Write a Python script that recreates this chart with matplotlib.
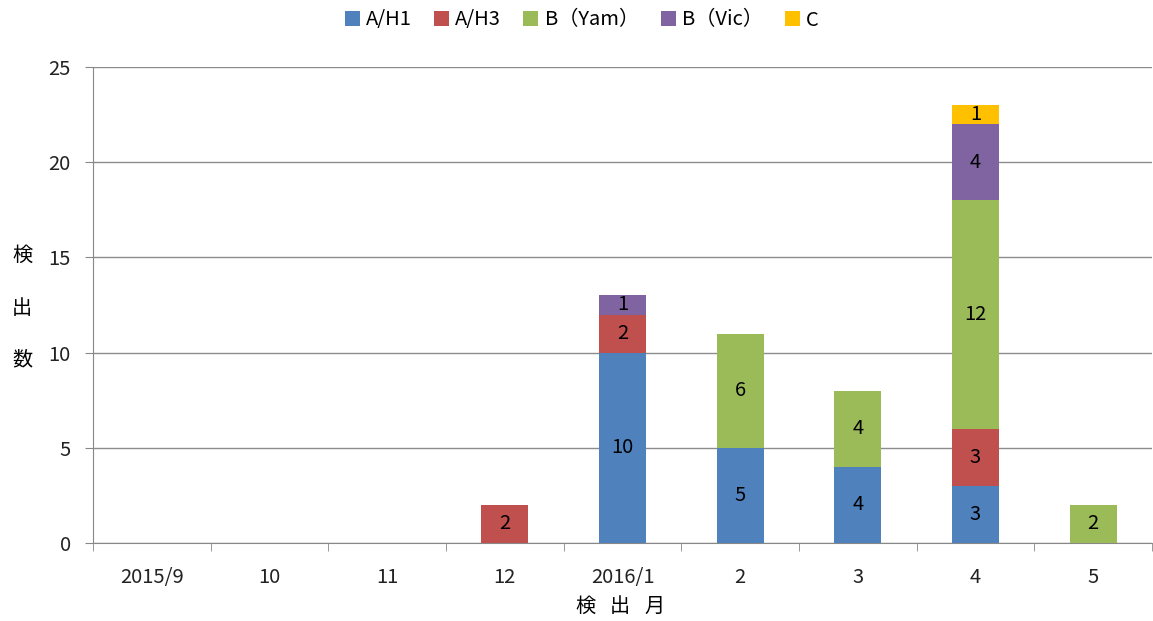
import matplotlib
matplotlib.use("Agg")
import matplotlib.pyplot as plt
import numpy as np

plt.rcParams['font.family'] = ['Noto Sans CJK JP', 'DejaVu Sans']

months = ["2015/9", "10", "11", "12", "2016/1", "2", "3", "4", "5"]
series_names = ["A/H1", "A/H3", "B（Yam）", "B（Vic）", "C"]
ah1 = [0, 0, 0, 0, 10, 5, 4, 3, 0]
ah3 = [0, 0, 0, 2, 2, 0, 0, 3, 0]
byam = [0, 0, 0, 0, 0, 6, 4, 12, 2]
bvic = [0, 0, 0, 0, 1, 0, 0, 4, 0]
c = [0, 0, 0, 0, 0, 0, 0, 1, 0]
colors = ["#4F81BD", "#C0504D", "#9BBB59", "#8064A2", "#FFC000"]

FS = 14.5

fig = plt.figure(figsize=(11.53, 6.21), dpi=100)
ax = fig.add_axes([93/1153, 1-543/621, (1152-93)/1153, (543-67)/621])

x = np.arange(len(months))
bottom = np.zeros(len(months))
handles = []
for name, vals, col in zip(series_names, [ah1, ah3, byam, bvic, c], colors):
    vals = np.array(vals, dtype=float)
    b = ax.bar(x, vals, 0.4, bottom=bottom, color=col, label=name, zorder=3)
    handles.append(b)
    for xi, v, bt in zip(x, vals, bottom):
        if v > 0:
            ax.text(xi, bt + v/2, f"{int(v)}", ha='center', va='center',
                    fontsize=FS, color='black', zorder=4)
    bottom += vals

ax.set_xlim(-0.5, len(months) - 0.5)
ax.set_ylim(0, 25)
ax.set_yticks([0, 5, 10, 15, 20, 25])
ax.set_xticks(x)
ax.set_xticklabels(months)
ax.set_xticks(np.arange(-0.5, len(months), 1.0), minor=True)
ax.tick_params(axis='x', which='major', length=0, pad=17, labelsize=FS)
ax.tick_params(axis='x', which='minor', length=6, color='#888888', direction='out')
ax.tick_params(axis='y', length=6, color='#888888', labelsize=FS, pad=10)
for lab in ax.get_xticklabels() + ax.get_yticklabels():
    lab.set_color('#222222')

ax.grid(axis='y', color='#8c8c8c', linewidth=1, zorder=0)
for s in ['top', 'right']:
    ax.spines[s].set_visible(False)
ax.spines['left'].set_color('#888888')
ax.spines['bottom'].set_color('#888888')

for ch, yy in zip("検出数", [255, 308, 360]):
    fig.text(22/1153, 1-yy/621, ch, ha='center', va='center', fontsize=FS)
for ch, xx in zip("検出月", [585, 620, 655]):
    fig.text(xx/1153, 1-606/621, ch, ha='center', va='center', fontsize=FS)

fig.legend(handles=handles, labels=series_names, loc='center', ncol=5,
           bbox_to_anchor=(582/1153, 1-20/621), frameon=False, fontsize=FS,
           handlelength=0.75, handleheight=0.75, handletextpad=0.3, columnspacing=1.1)

fig.savefig("out.png", dpi=100)
